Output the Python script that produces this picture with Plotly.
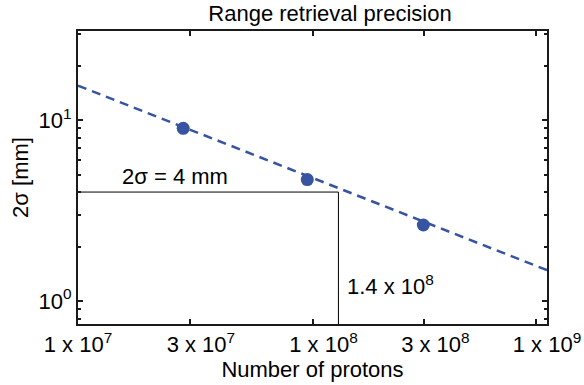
import numpy as np
import plotly.graph_objects as go

# Data
protons = [2.81e7, 9.5e7, 2.97e8]
sigma2 = [9.0, 4.69, 2.63]
fit_x = [1e7, 1e9]
fit_y = [15.5, 1.48]
req_sigma = 4.0
req_protons = 1.29e8
x_tickvals = [1e7, 3e7, 1e8, 3e8, 1e9]
x_ticktext = ["1 x 10<sup>7</sup>", "\u20033 x 10<sup>7</sup>", "\u20031 x 10<sup>8</sup>",
              "\u20033 x 10<sup>8</sup>", "1 x 10<sup>9</sup>"]
x_minor = [9e8]
y_tickvals = [1, 10]
y_ticktext = ["10<sup>0</sup>", "10<sup>1</sup>"]
y_minor = [0.8, 0.9, 2, 3, 4, 5, 6, 7, 8, 9, 20, 30]

x_range = [7.0, 9.0]
y_range = [-0.127, 1.492]
y_min = 10 ** y_range[0]

FONT = "Liberation Sans, Arial, sans-serif"
BLUE = "#3853a4"
AX = "#1a1a1a"
FS = 22

fig = go.Figure()
fig.add_trace(go.Scatter(x=[fit_x[0], req_protons, req_protons], y=[req_sigma, req_sigma, y_min],
                         mode="lines", line=dict(color="black", width=1), showlegend=False))
fig.add_trace(go.Scatter(x=fit_x, y=fit_y, mode="lines",
                         line=dict(color=BLUE, width=2.5, dash="9px,6px"), showlegend=False))
fig.add_trace(go.Scatter(x=protons, y=sigma2, mode="markers",
                         marker=dict(color=BLUE, size=13), showlegend=False))

fig.add_annotation(x=np.log10(1.51e7), y=np.log10(4.9), xref="x", yref="y",
                   text="2σ = 4 mm", showarrow=False, xanchor="left", yanchor="middle",
                   font=dict(size=FS, color="black", family=FONT))
fig.add_annotation(x=np.log10(1.38e8), y=np.log10(1.22), xref="x", yref="y",
                   text="1.4 x 10<sup>8</sup>", showarrow=False, xanchor="left", yanchor="middle",
                   font=dict(size=FS, color="black", family=FONT))

fig.update_layout(
    width=584, height=385,
    margin=dict(l=78, r=37, t=31, b=61, autoexpand=False),
    paper_bgcolor="white", plot_bgcolor="white",
    font=dict(family=FONT, size=FS, color="black"),
    title=dict(text="Range retrieval precision", x=0.565, xanchor="center",
               y=0.985, yanchor="top", font=dict(size=FS, color="black")),
)
fig.update_xaxes(type="log", range=x_range, tickvals=x_tickvals, ticktext=x_ticktext,
                 ticks="inside", ticklen=5, tickwidth=2, tickcolor=AX,
                 showline=True, linewidth=2, linecolor=AX, mirror="ticks",
                 showgrid=False, zeroline=False,
                 ticklabeloverflow="allow", automargin=False,
                 minor=dict(tickmode="array", tickvals=x_minor, ticks="inside", ticklen=5,
                            tickwidth=2, tickcolor=AX, showgrid=False),
                 title=dict(text="Number of protons", standoff=2, font=dict(size=FS)),
                 tickfont=dict(size=FS))
fig.update_yaxes(type="log", range=y_range, tickvals=y_tickvals, ticktext=y_ticktext,
                 ticks="inside", ticklen=5, tickwidth=2, tickcolor=AX,
                 showline=True, linewidth=2, linecolor=AX, mirror="ticks",
                 showgrid=False, zeroline=False, automargin=False,
                 minor=dict(tickmode="array", tickvals=y_minor, ticks="inside", ticklen=3,
                            tickwidth=1.5, tickcolor=AX, showgrid=False),
                 title=dict(text="2σ [mm]", standoff=4, font=dict(size=FS)),
                 tickfont=dict(size=FS))

fig.write_html("out.html")
